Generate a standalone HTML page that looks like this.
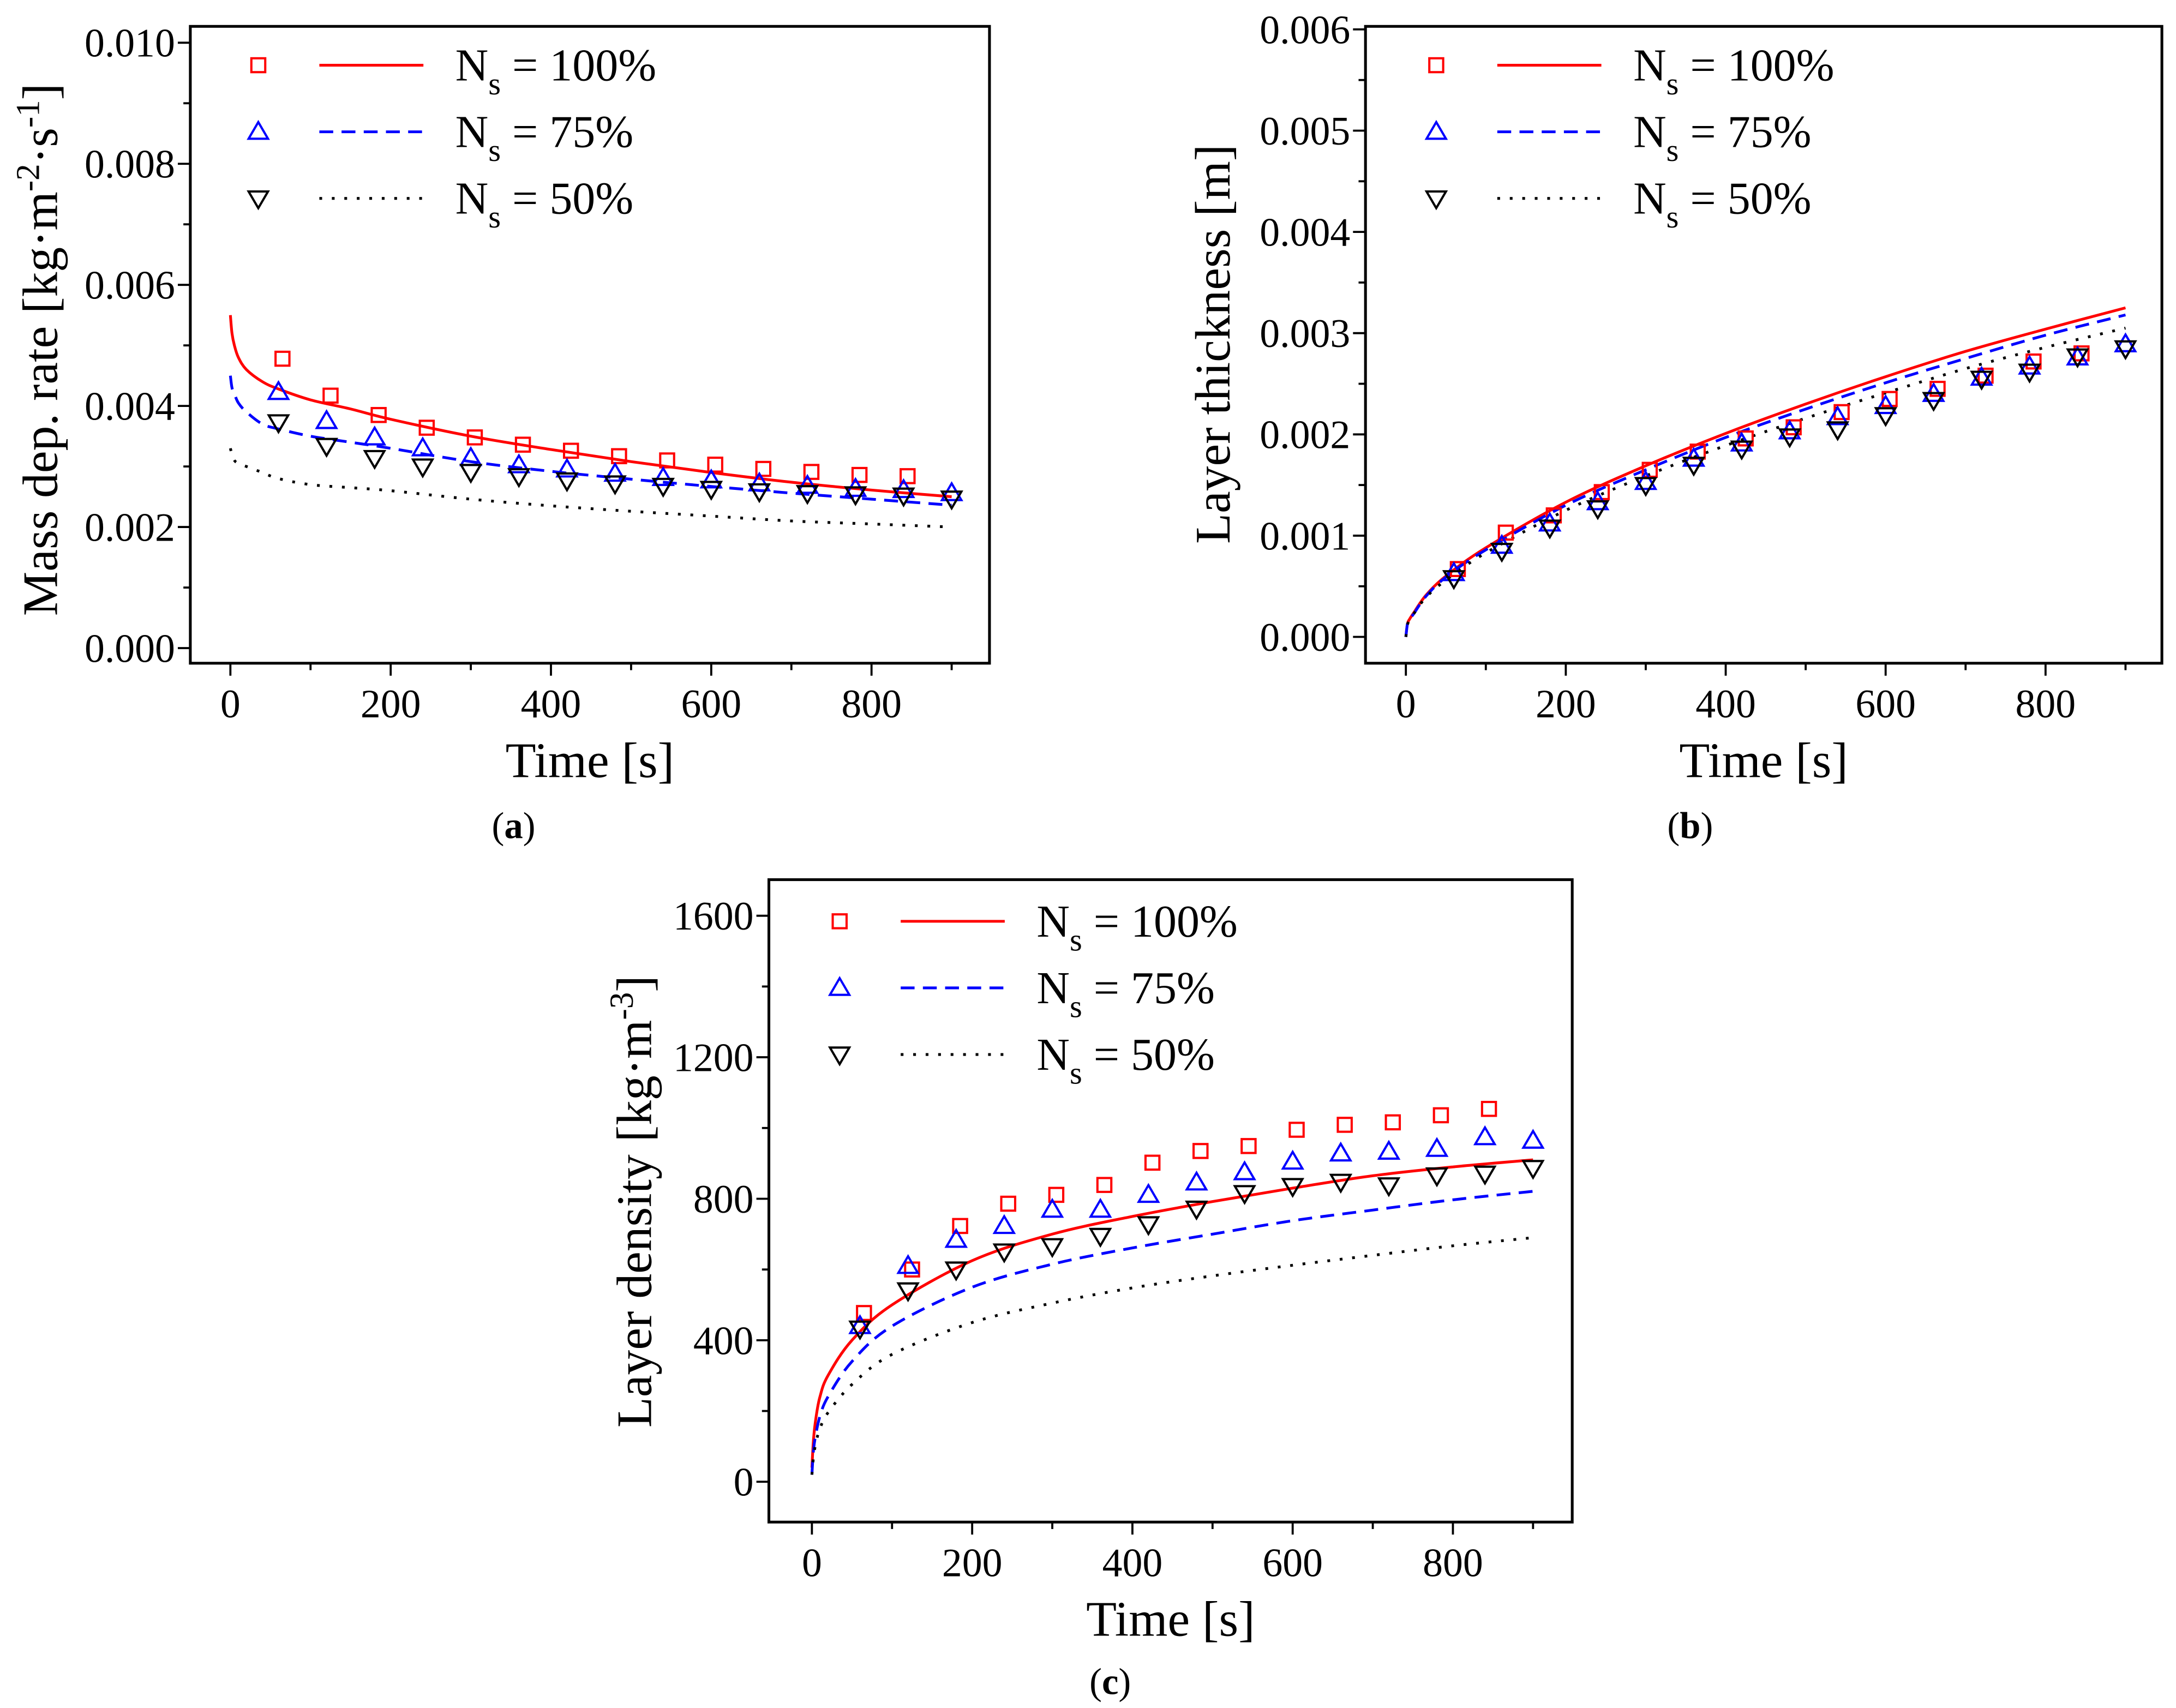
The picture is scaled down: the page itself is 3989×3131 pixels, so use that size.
<!DOCTYPE html>
<html><head><meta charset="utf-8">
<style>
html,body{margin:0;padding:0;background:#fff;}
svg{display:block;}
svg text{font-family:"Liberation Serif","DejaVu Serif",serif;fill:#000;}
</style></head>
<body>
<svg id="fig" xmlns="http://www.w3.org/2000/svg" width="3989" height="3131" viewBox="0 0 1568 1231" font-family="Liberation Serif, DejaVu Serif, serif">
<rect x="0" y="0" width="1568" height="1231" fill="#fff"/>
</svg>
<script>
// ---------- Panel (a): Mass deposition rate ----------
const A_LINE_T = [0,2,5,10,20,40,60,100,150,200,300,400,500,600,700,800,900];
const A_LINE_100 = [0.0055,0.0052,0.0050,0.0048,0.0046,0.0044,0.00428,0.00410,0.00395,0.00378,0.00350,0.00328,0.00308,0.00290,0.00274,0.00261,0.0025];
const A_LINE_75 = [0.0045,0.0043,0.0042,0.00405,0.0039,0.0037,0.00362,0.0035,0.0034,0.0033,0.00308,0.00292,0.00279,0.00267,0.00256,0.00246,0.00236];
const A_LINE_50 = [0.0033,0.0032,0.0031,0.00305,0.0030,0.0029,0.0028,0.0027,0.00265,0.0026,0.00246,0.00235,0.00226,0.00218,0.0021,0.00205,0.0020];
const T_RED = [65,125,185,245,305,365,425,485,545,605,665,725,785,845];
const T_PTS = [60,120,180,240,300,360,420,480,540,600,660,720,780,840,900];
const A_PTS_100 = [0.00478,0.00417,0.00385,0.00364,0.00348,0.00336,0.00326,0.00317,0.0031,0.00303,0.00296,0.00291,0.00286,0.00284];
const A_PTS_75 = [0.00423,0.00375,0.00348,0.00330,0.00314,0.00302,0.00295,0.00288,0.00281,0.00277,0.00272,0.00268,0.00263,0.00261,0.00256];
const A_PTS_50 = [0.00373,0.00334,0.00314,0.00300,0.00291,0.00284,0.00277,0.00272,0.00268,0.00263,0.00259,0.00256,0.00254,0.00252,0.00247];
const A_YTICKS = ["0.000","0.002","0.004","0.006","0.008","0.010"];

// ---------- Panel (b): Layer thickness ----------
const B_LINE_T = [0,2,5,10,25,50,100,200,300,400,500,600,700,800,900];
const B_LINE_100 = [0,0.00013,0.00018,0.00024,0.00041,0.00060,0.00088,0.00133,0.00169,0.00201,0.00230,0.00257,0.00282,0.00304,0.00325];
const B_LINE_75 = [0,0.00013,0.00018,0.00023,0.00040,0.00059,0.00086,0.00130,0.00165,0.00197,0.00225,0.00251,0.00275,0.00298,0.00318];
const B_LINE_50 = [0,0.00012,0.00017,0.00023,0.00039,0.00056,0.00083,0.00125,0.00159,0.00189,0.00216,0.00241,0.00265,0.00286,0.00305];
const B_PTS_100 = [0.00067,0.00103,0.00120,0.00143,0.00165,0.00183,0.00196,0.00207,0.00222,0.00235,0.00245,0.00258,0.00272,0.00280];
const B_PTS_75 = [0.00063,0.00090,0.00112,0.00133,0.00153,0.00176,0.00191,0.00203,0.00217,0.00228,0.00240,0.00256,0.00267,0.00276,0.00289];
const B_PTS_50 = [0.00058,0.00085,0.00108,0.00127,0.00150,0.00170,0.00186,0.00198,0.00205,0.00219,0.00234,0.00255,0.00262,0.00277,0.00285];
const B_YTICKS = ["0.000","0.001","0.002","0.003","0.004","0.005","0.006"];

// ---------- Panel (c): Layer density ----------
const C_LINE_T = [0,2,5,10,20,50,100,200,300,400,500,600,700,800,900];
const C_LINE_100 = [40,120,180,240,300,400,500,625,700,750,792,830,865,890,910];
const C_LINE_75 = [20,90,135,185,240,340,440,550,615,661,700,738,768,797,821];
const C_LINE_50 = [20,70,110,150,195,275,360,450,505,548,582,612,640,667,690];
const C_PTS_100 = [477,600,723,786,811,839,902,935,949,995,1009,1016,1036,1054];
const C_PTS_75 = [440,610,684,723,769,769,811,846,875,905,928,933,941,974,964];
const C_PTS_50 = [433,541,600,651,666,695,728,772,816,836,848,838,866,871,887];
const C_YTICKS = ["0","400","800","1200","1600"];

const X_TICKS = ["0","200","400","600","800"];

const NS = "http://www.w3.org/2000/svg";
const svg = document.getElementById('fig');
function mk(tag, attrs, parent){
  const e = document.createElementNS(NS, tag);
  for (const k in attrs) e.setAttribute(k, attrs[k]);
  (parent||svg).appendChild(e);
  return e;
}
function smoothPath(pts){
  let d = 'M' + pts[0][0].toFixed(2) + ',' + pts[0][1].toFixed(2);
  for (let i=0;i<pts.length-1;i++){
    const p0 = pts[Math.max(0,i-1)], p1 = pts[i], p2 = pts[i+1], p3 = pts[Math.min(pts.length-1,i+2)];
    const c1x = p1[0] + (p2[0]-p0[0])/6, c1y = p1[1] + (p2[1]-p0[1])/6;
    const c2x = p2[0] - (p3[0]-p1[0])/6, c2y = p2[1] - (p3[1]-p1[1])/6;
    d += ' C' + c1x.toFixed(2)+','+c1y.toFixed(2)+' '+c2x.toFixed(2)+','+c2y.toFixed(2)+' '+p2[0].toFixed(2)+','+p2[1].toFixed(2);
  }
  return d;
}

function drawPanel(p){
  const g = mk('g', {});
  
  
  const sx = v => p.box[0] + (v - p.xd[0]) / (p.xd[1]-p.xd[0]) * (p.box[2]-p.box[0]);
  const sy = v => p.box[3] - (v - p.yd[0]) / (p.yd[1]-p.yd[0]) * (p.box[3]-p.box[1]);
  const fr = mk('rect', {x:p.box[0], y:p.box[1], width:p.box[2]-p.box[0], height:p.box[3]-p.box[1], fill:'none', stroke:'#000', 'stroke-width':2}, g);
  
  
  for (let v=0; v<=900; v+=100){
    const x = sx(v), major = v%200===0;
    mk('line', {x1:x, x2:x, y1:p.box[3], y2:p.box[3]+(major?9:5), stroke:'#000','stroke-width':1.5}, g);
  }
  X_TICKS.forEach(lbl=>{
    const t = mk('text', {x:sx(+lbl), y:p.box[3]+39, 'font-size':29, 'text-anchor':'middle'}, g);
    t.textContent = lbl;
    
    
  });
  const step = (+p.yt[1]) - (+p.yt[0]);
  for (let i=0; i<=2*(p.yt.length-1); i++){
    const v = i*step/2, y = sy(v);
    mk('line', {x1:p.box[0]-(i%2===0?9:5), x2:p.box[0], y1:y, y2:y, stroke:'#000','stroke-width':1.5}, g);
  }
  p.yt.forEach(lbl=>{
    const t = mk('text', {x:p.box[0]-11, y:sy(+lbl)+10, 'font-size':29, 'text-anchor':'end'}, g);
    t.textContent = lbl;
    
    
  });
  const styles = [
    {c:'#ff0000', d:'', w:2},
    {c:'#0000ff', d:'10 6', w:2},
    {c:'#000000', d:'2 7', w:2}
  ];
  p.lines.forEach((ys,k)=>{
    const pts = p.lt.map((t,i)=>[sx(t), sy(ys[i])]);
    const l = mk('path', {d:smoothPath(pts), fill:'none', stroke:styles[k].c, 'stroke-width':styles[k].w, 'stroke-dasharray':styles[k].d, 'stroke-linejoin':'round'}, g);
    
    
  });
  function marker(kind, cx, cy, parent){
    let e;
    if (kind===0) e = mk('rect', {x:cx-5, y:cy-5, width:10, height:10, fill:'none', stroke:'#ff0000','stroke-width':1.6}, parent);
    else if (kind===1) e = mk('polygon', {points:`${cx},${cy-7} ${cx-7},${cy+5} ${cx+7},${cy+5}`, fill:'none', stroke:'#0000ff','stroke-width':1.6}, parent);
    else e = mk('polygon', {points:`${cx},${cy+7} ${cx-7},${cy-5} ${cx+7},${cy-5}`, fill:'none', stroke:'#000','stroke-width':1.6}, parent);
    return e;
  }
  p.pts.forEach((ys,k)=>{
    const ts = k===0 ? T_RED : T_PTS;
    ys.forEach((v,i)=>{
      const m = marker(k, sx(ts[i]), sy(v), g);
      
      
    });
  });
  const lg = mk('g', {}, g);
  
  
  const labels = ['100%','75%','50%'];
  for (let k=0;k<3;k++){
    const y = p.leg[1] + k*48;
    const ent = mk('g', {}, lg);
    
    
    marker(k, p.leg[0], y, ent);
    mk('line', {x1:p.leg[0]+44, x2:p.leg[0]+119, y1:y, y2:y, stroke:styles[k].c,'stroke-width':2,'stroke-dasharray':styles[k].d}, ent);
    const t = mk('text', {x:p.leg[0]+142, y:y+11, 'font-size':33}, ent);
    t.innerHTML = 'N<tspan font-size="23" dy="10">s</tspan><tspan dy="-10"> = '+labels[k]+'</tspan>';
  }
  const xt = mk('text', {x:(p.box[0]+p.box[2])/2, y:p.box[3]+82, 'font-size':36, 'text-anchor':'middle'}, g);
  xt.textContent = 'Time [s]';
  
  
  const yt = mk('text', {x:0, y:0, 'font-size':36, 'text-anchor':'middle', transform:`translate(${p.ytx},${p.yty}) rotate(-90)`}, g);
  yt.innerHTML = p.ytitle;
  
  
  const cap = mk('text', {x:p.cap[0], y:p.cap[1], 'font-size':27, 'text-anchor':'middle'}, g);
  cap.innerHTML = '(<tspan font-weight="bold">'+p.capText+'</tspan>)';
  
  
}

drawPanel({name:'panel-a-mass-deposition-rate', box:[137,19,713,478], xd:[-50,947.2], yd:[-0.00025,0.01027],
  yt:A_YTICKS, lt:A_LINE_T, lines:[A_LINE_100,A_LINE_75,A_LINE_50], pts:[A_PTS_100,A_PTS_75,A_PTS_50],
  leg:[186,47], ytx:41, yty:252, ytitle:'Mass dep. rate [kg·m<tspan font-size="24" dy="-13">-2</tspan><tspan dy="13">·s</tspan><tspan font-size="24" dy="-13">-1</tspan><tspan dy="13">]</tspan>',
  cap:[370,604], capText:'a'});
drawPanel({name:'panel-b-layer-thickness', box:[984,19,1558,478], xd:[-50.5,945.5], yd:[-0.00026,0.00603],
  yt:B_YTICKS, lt:B_LINE_T, lines:[B_LINE_100,B_LINE_75,B_LINE_50], pts:[B_PTS_100,B_PTS_75,B_PTS_50],
  leg:[1035,47], ytx:886, yty:248, ytitle:'Layer thickness [m]',
  cap:[1218,604], capText:'b'});
drawPanel({name:'panel-c-layer-density', box:[554,634,1133,1097], xd:[-53.7,948.9], yd:[-114,1702],
  yt:C_YTICKS, lt:C_LINE_T, lines:[C_LINE_100,C_LINE_75,C_LINE_50], pts:[C_PTS_100,C_PTS_75,C_PTS_50],
  leg:[605,664], ytx:469, yty:866, ytitle:'Layer density [kg·m<tspan font-size="24" dy="-13">-3</tspan><tspan dy="13">]</tspan>',
  cap:[800,1221], capText:'c'});
</script>
</body></html>
